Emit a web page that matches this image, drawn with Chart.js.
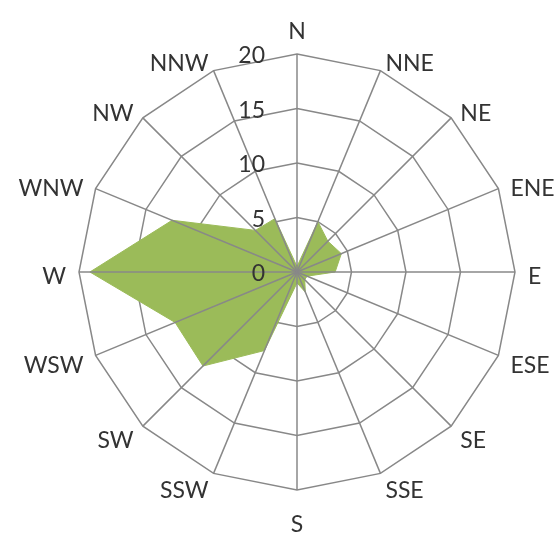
<!DOCTYPE html>
<html>
<head>
<meta charset="utf-8">
<script src="https://cdn.jsdelivr.net/npm/chart.js@4"></script>
<style>
  html, body { margin: 0; padding: 0; background: #fff; }
  #wrap { width: 560px; height: 538px; }
</style>
</head>
<body>
<div id="wrap"><canvas id="windRose" width="560" height="538"></canvas></div>
<script>
// wind direction frequency
const directions = ["N", "NNE", "NE", "ENE", "E", "ESE", "SE", "SSE",
  "S", "SSW", "SW", "WSW", "W", "WNW", "NW", "NNW"];
const frequency = [0.5, 5.0, 4.0, 4.4, 3.5, 1.0, 1.0, 2.0,
  1.0, 7.8, 12.2, 12.1, 19.0, 12.4, 5.4, 5.3];
const tickValues = [0, 5, 10, 15, 20];

const gridGray = "#888888";
const inkText = "#333333";
const labelFont = "23px Lato";

// angle lines, tick labels and direction labels drawn over the fill,
// labels set beside the outer ring the way Excel places them
const overlayPlugin = {
  id: "overlay",
  afterDatasetsDraw(chart) {
    const scale = chart.scales.r;
    const ctx = chart.ctx;
    const cx = scale.xCenter;
    const cy = scale.yCenter;
    ctx.save();
    ctx.strokeStyle = gridGray;
    ctx.lineWidth = 1.5;
    directions.forEach((d, i) => {
      const p = scale.getPointPosition(i, scale.drawingArea);
      ctx.beginPath();
      ctx.moveTo(cx, cy);
      ctx.lineTo(p.x, p.y);
      ctx.stroke();
    });

    ctx.fillStyle = inkText;
    ctx.font = labelFont;
    ctx.textAlign = "right";
    ctx.textBaseline = "middle";
    tickValues.forEach((v) => {
      const dist = scale.getDistanceFromCenterForValue(v);
      ctx.fillText(String(v), cx - 32, cy - dist + 2);
    });

    ctx.textAlign = "center";
    const pad = 13;
    directions.forEach((d, i) => {
      const p = scale.getPointPosition(i, scale.drawingArea);
      const ux = (p.x - cx) / scale.drawingArea;
      const uy = (p.y - cy) / scale.drawingArea;
      const w = ctx.measureText(d).width;
      let x, y;
      if (Math.abs(ux) < 0.01) {
        x = p.x;
        y = uy < 0 ? p.y - pad - 11 : p.y + pad + 20;
      } else {
        x = p.x + ux * pad + Math.sign(ux) * w / 2;
        y = p.y + uy * pad + 3;
      }
      ctx.fillText(d, x, y + 2);
    });
    ctx.restore();
  },
};

new Chart(document.getElementById("windRose"), {
  type: "radar",
  data: {
    labels: directions,
    datasets: [
      {
        data: frequency,
        backgroundColor: "#9bbb59",
        borderColor: "#9bbb59",
        borderWidth: 1,
        fill: true,
        pointRadius: 0,
        tension: 0,
      },
    ],
  },
  options: {
    responsive: false,
    animation: false,
    layout: { padding: { top: 54, bottom: 48, left: 79, right: 45 } },
    plugins: { legend: { display: false }, tooltip: { enabled: false } },
    scales: {
      r: {
        min: 0,
        max: 20,
        startAngle: 0,
        ticks: { stepSize: 5, display: false },
        grid: { color: gridGray, lineWidth: 1.5 },
        angleLines: { display: false },
        pointLabels: { display: false },
      },
    },
  },
  plugins: [overlayPlugin],
});
</script>
</body>
</html>
